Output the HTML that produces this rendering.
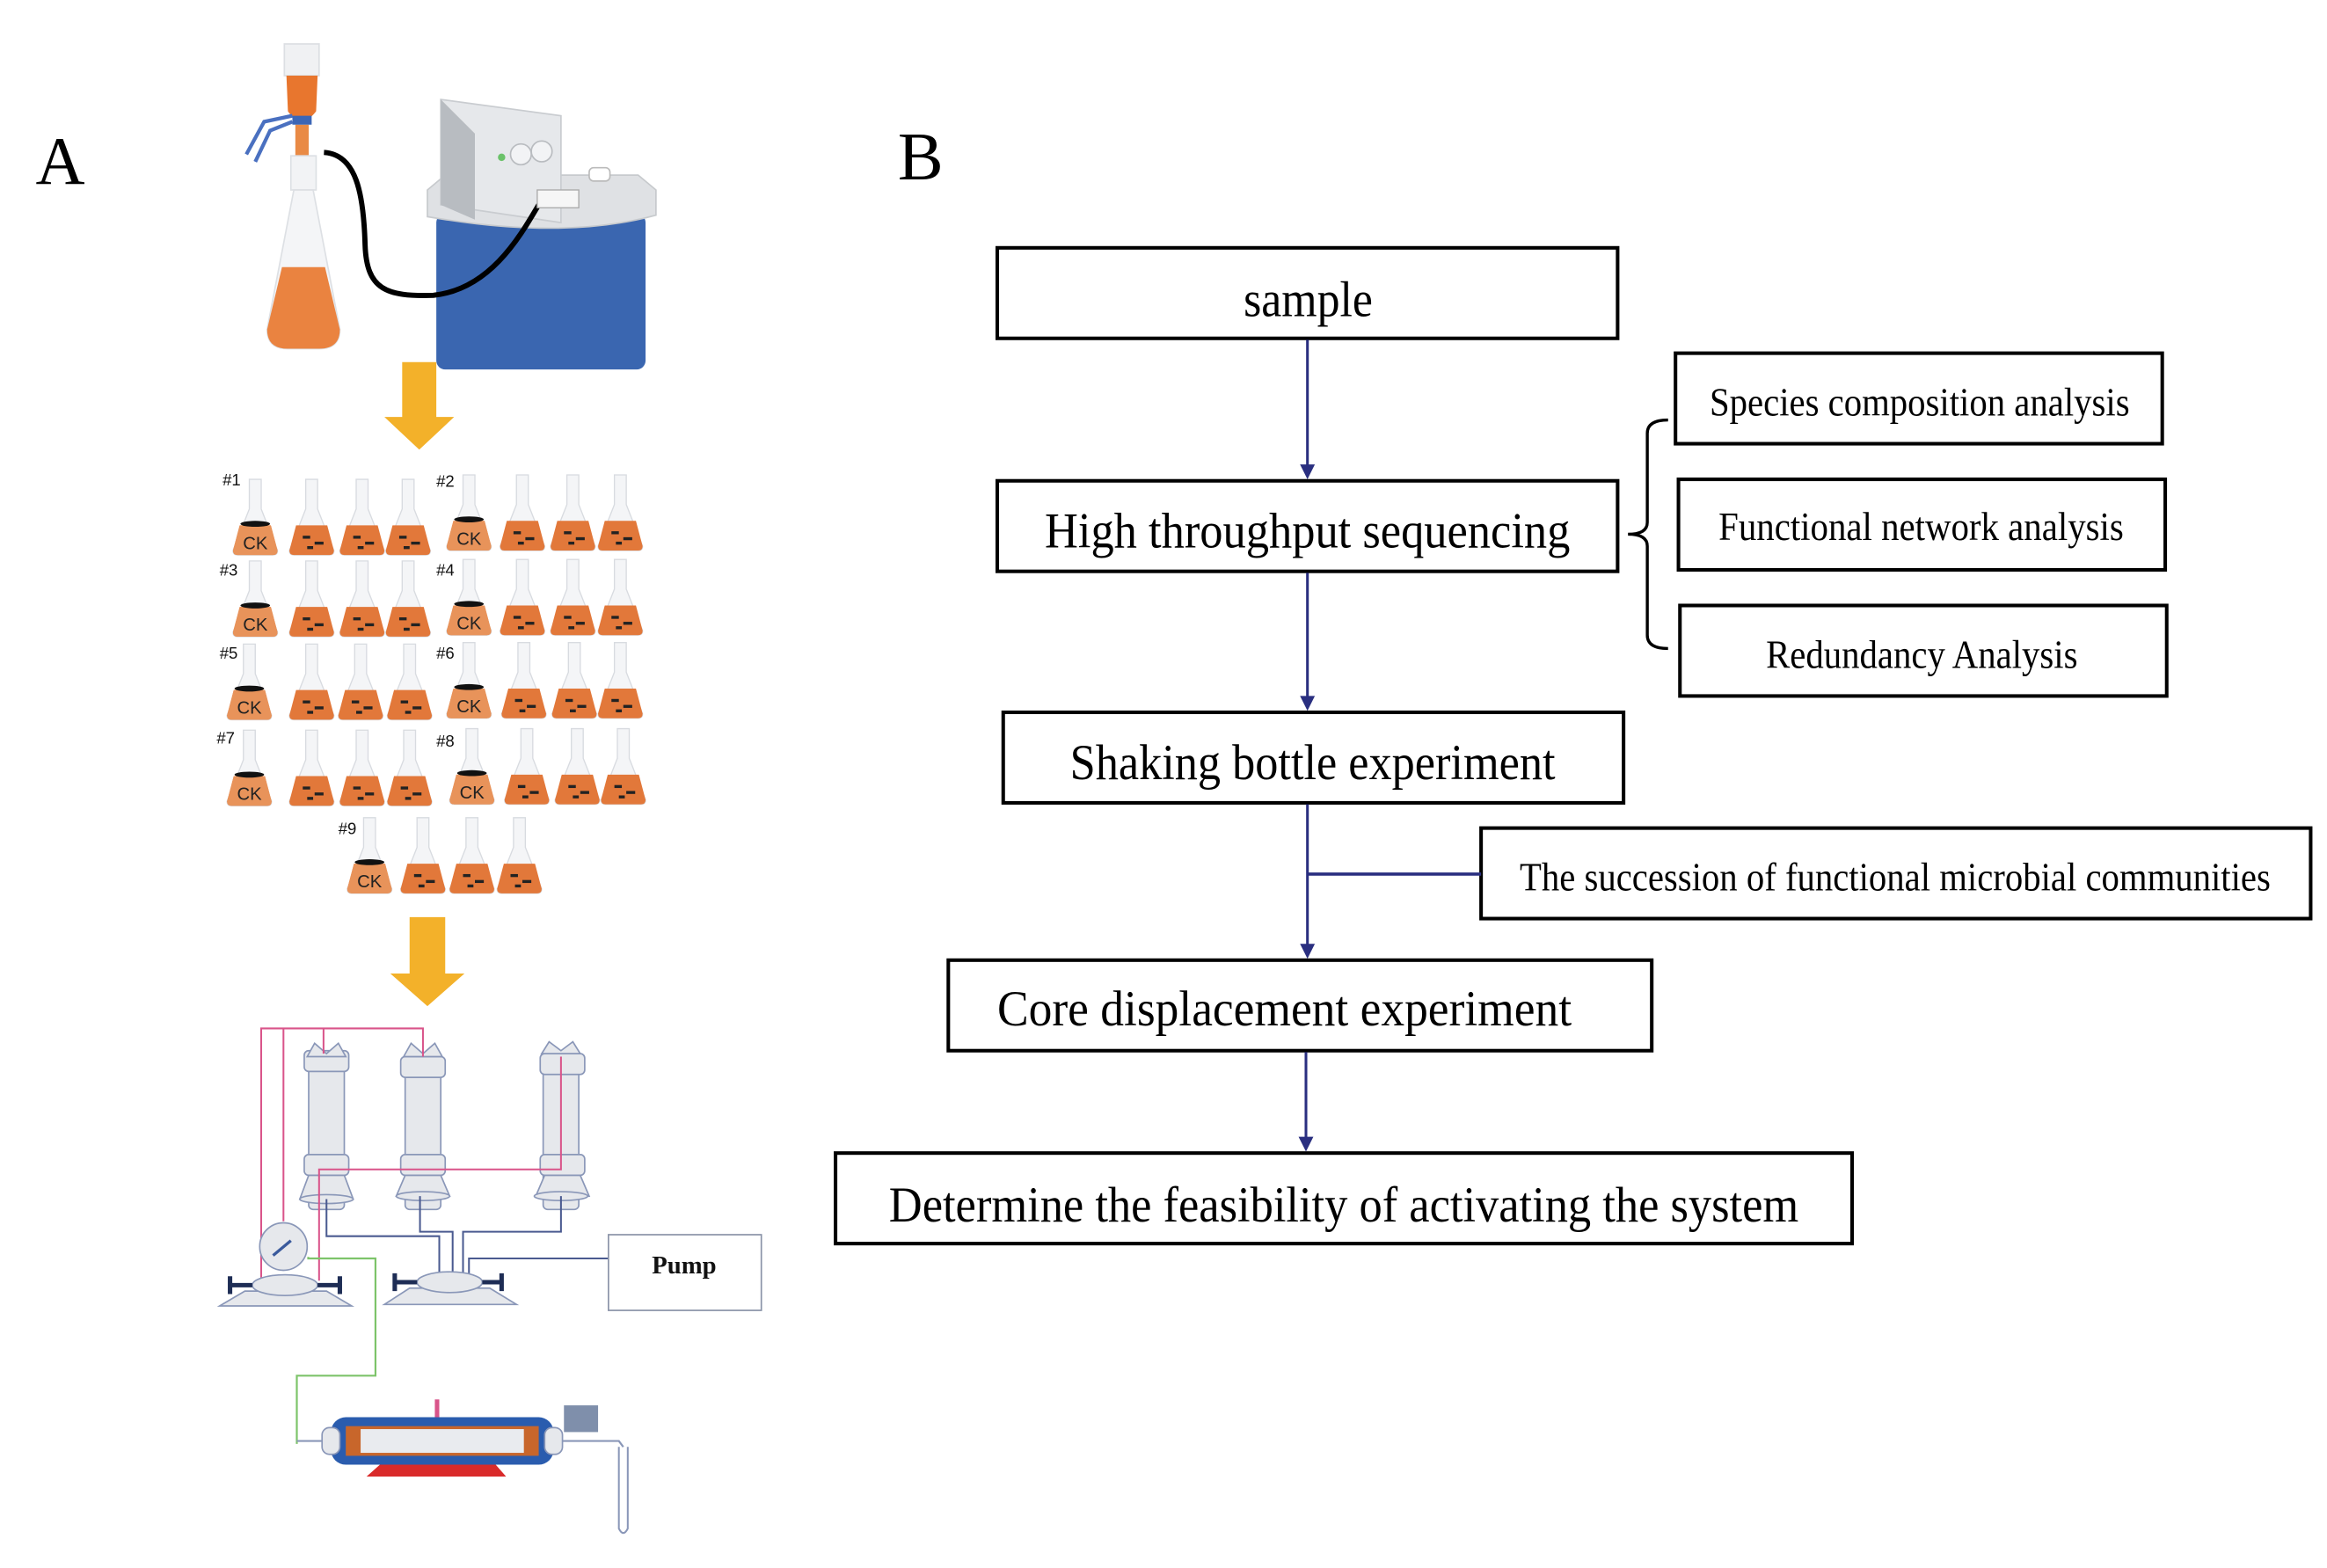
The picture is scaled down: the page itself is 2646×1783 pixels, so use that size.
<!DOCTYPE html>
<html><head><meta charset="utf-8"><style>
html,body{margin:0;padding:0;background:#fff}
svg{display:block}
</style></head><body>
<svg width="2646" height="1783" viewBox="0 0 1568 1056.6" xmlns="http://www.w3.org/2000/svg">
<defs>
<symbol id="fl" overflow="visible">
 <path d="M-4,0 L4,0 L4,20 L15,48 Q15,51 12,51 L-12,51 Q-15,51 -15,48 L-4,20 Z" fill="#f4f5f7" stroke="#d8dbe0" stroke-width="0.8"/>
 <path d="M-10.5,31 L10.5,31 L15,48 Q15,51 12,51 L-12,51 Q-15,51 -15,48 Z" fill="#e2783a"/>
</symbol>
<symbol id="ck" overflow="visible">
 <use href="#fl"/>
 <path d="M-10.5,31 L10.5,31 L15,48 Q15,51 12,51 L-12,51 Q-15,51 -15,48 Z" fill="#e8935a"/>
 <ellipse cx="0" cy="30" rx="10" ry="2" fill="#111"/>
 <text x="0" y="47" font-family="Liberation Sans, sans-serif" font-size="12" text-anchor="middle" fill="#222">CK</text>
</symbol>
<symbol id="dk" overflow="visible">
 <use href="#fl"/>
 <rect x="-6" y="38" width="5" height="2" fill="#222"/><rect x="2" y="42" width="6" height="2" fill="#222"/><rect x="-3" y="45" width="4" height="2" fill="#222"/>
</symbol>
</defs>

<text x="24" y="124" font-family="Liberation Serif, serif" font-size="46" fill="#000">A</text>
<text x="605" y="121" font-family="Liberation Serif, serif" font-size="46" fill="#000">B</text>

<rect x="191.6" y="29.6" width="23.4" height="21.4" fill="#f0f1f3" stroke="#dcdfe3"/>
<path d="M193,51 L214,51 L213,75 Q203,88 194,75 Z" fill="#e8762e"/>
<rect x="199" y="84" width="9" height="21" fill="#e98a45"/>
<path d="M197,78 L210,78 L210,84 L197,84 Z" fill="#3c66b6"/>
<path d="M197,78 L178,82 L166,104 M197,82 L182,88 L172,109" stroke="#4a70c0" stroke-width="2.5" fill="none"/>
<rect x="196" y="105" width="17" height="23" fill="#f2f3f5" stroke="#dde0e4"/>
<path d="M198,128 L211,128 L229,222 Q229,235 215,235 L194,235 Q180,235 180,222 Z" fill="#f4f5f7" stroke="#dde0e4"/>
<path d="M190,180 L219,180 L229,222 Q229,235 215,235 L194,235 Q180,235 180,222 Z" fill="#ea8340"/>
<rect x="294" y="144" width="141" height="105" rx="6" fill="#3a66b0"/>
<path d="M288,128 L300,118 L430,118 L442,128 L442,145 Q380,162 288,146 Z" fill="#dfe1e4" stroke="#c7cacd"/>
<path d="M297,67 L378,78 L378,150 L297,138 Z" fill="#e6e8eb" stroke="#c9ccd0"/>
<path d="M297,67 L320,90 L320,148 L297,138 Z" fill="#b8bcc1"/>
<circle cx="351" cy="104" r="7" fill="#f2f3f5" stroke="#b9bcc0"/><circle cx="365" cy="102" r="7" fill="#f2f3f5" stroke="#b9bcc0"/>
<circle cx="338" cy="106" r="2.5" fill="#6bc26a"/>
<rect x="397" y="113" width="14" height="9" rx="3" fill="#fff" stroke="#bbb"/>
<path d="M218.3,102.7 C240,104 245,130 246,165 C247,195 260,200 292,199 C330,195 350,160 363,138" stroke="#000" stroke-width="3.5" fill="none"/>
<rect x="362" y="128" width="28" height="12" fill="#f6f6f6" stroke="#aaa" stroke-width="0.8"/>

<path d="M271,244 L294,244 L294,281 L306,281 L282.5,303 L259,281 L271,281 Z" fill="#f3b12a"/>
<path d="M276,618 L300,618 L300,656 L313,656 L288,678 L263,656 L276,656 Z" fill="#f3b12a"/>

<g font-family="Liberation Sans, sans-serif" font-size="11" fill="#111">
<text x="150" y="327">#1</text><text x="294" y="328">#2</text>
<text x="148" y="388">#3</text><text x="294" y="388">#4</text>
<text x="148" y="444">#5</text><text x="294" y="444">#6</text>
<text x="146" y="501">#7</text><text x="294" y="503">#8</text>
<text x="228" y="562">#9</text>
</g>
<use href="#ck" x="172" y="323"/><use href="#dk" x="210" y="323"/><use href="#dk" x="244" y="323"/><use href="#dk" x="275" y="323"/>
<use href="#ck" x="316" y="320"/><use href="#dk" x="352" y="320"/><use href="#dk" x="386" y="320"/><use href="#dk" x="418" y="320"/>
<use href="#ck" x="172" y="378"/><use href="#dk" x="210" y="378"/><use href="#dk" x="244" y="378"/><use href="#dk" x="275" y="378"/>
<use href="#ck" x="316" y="377"/><use href="#dk" x="352" y="377"/><use href="#dk" x="386" y="377"/><use href="#dk" x="418" y="377"/>
<use href="#ck" x="168" y="434"/><use href="#dk" x="210" y="434"/><use href="#dk" x="243" y="434"/><use href="#dk" x="276" y="434"/>
<use href="#ck" x="316" y="433"/><use href="#dk" x="353" y="433"/><use href="#dk" x="387" y="433"/><use href="#dk" x="418" y="433"/>
<use href="#ck" x="168" y="492"/><use href="#dk" x="210" y="492"/><use href="#dk" x="244" y="492"/><use href="#dk" x="276" y="492"/>
<use href="#ck" x="318" y="491"/><use href="#dk" x="355" y="491"/><use href="#dk" x="389" y="491"/><use href="#dk" x="420" y="491"/>
<use href="#ck" x="249" y="551"/><use href="#dk" x="285" y="551"/><use href="#dk" x="318" y="551"/><use href="#dk" x="350" y="551"/>

<g fill="#e6e8ec" stroke="#8a97b8" stroke-width="1">
 <rect x="208" y="715" width="24" height="100" rx="3"/><rect x="205" y="708" width="30" height="14" rx="3"/><rect x="205" y="778" width="30" height="14" rx="3"/>
 <path d="M208,792 L232,792 L238,808 L202,808 Z"/><ellipse cx="220" cy="808" rx="18" ry="3"/>
 <rect x="273" y="715" width="24" height="100" rx="3"/><rect x="270" y="712" width="30" height="14" rx="3"/><rect x="270" y="778" width="30" height="14" rx="3"/>
 <path d="M273,792 L297,792 L303,806 L267,806 Z"/><ellipse cx="285" cy="806" rx="18" ry="3"/>
 <rect x="366" y="715" width="24" height="100" rx="3"/><rect x="364" y="710" width="30" height="14" rx="3"/><rect x="364" y="778" width="30" height="14" rx="3"/>
 <path d="M367,792 L391,792 L397,806 L361,806 Z"/><ellipse cx="378" cy="806" rx="18" ry="3"/>
 <path d="M207,712 L212,703 L220,710 L228,703 L233,712 Z"/><path d="M272,712 L277,703 L285,710 L293,703 L298,712 Z"/><path d="M365,710 L370,702 L378,708 L386,702 L391,710 Z"/>
</g>
<g fill="none" stroke="#d9548a" stroke-width="1.2">
 <path d="M176,868 L176,693 L285,693 L285,712"/><path d="M191,823 L191,693"/><path d="M218,693 L218,710"/>
 <path d="M215,863 L215,788 L378,788 L378,712"/>
</g>
<g fill="none" stroke="#4a5a90" stroke-width="1.2">
 <path d="M220,808 L220,833 L296,833 L296,862"/><path d="M283,806 L283,830 L305,830 L305,862"/><path d="M378,806 L378,830 L312,830 L312,862"/>
 <path d="M316,860 L316,848 L410,848"/>
</g>
<path d="M207.7,847 L207.7,848 L253,848 L253,927 L200,927 L200,973" fill="none" stroke="#7dc46a" stroke-width="1.3"/>
<circle cx="191" cy="840" r="16" fill="#e6e8ec" stroke="#8a97b8"/>
<path d="M184,846 L196,836" stroke="#3a5a9c" stroke-width="2"/>
<g fill="#e6e8ec" stroke="#8a97b8">
 <path d="M148,880 L165,870 L220,870 L237,880 Z"/><ellipse cx="192" cy="866" rx="22" ry="7"/>
 <path d="M259,879 L276,868 L330,868 L348,879 Z"/><ellipse cx="303" cy="864" rx="22" ry="7"/>
</g>
<g stroke="#1e2d55" stroke-width="3"><path d="M155,866 L170,866 M155,860 L155,872 M214,866 L229,866 M229,860 L229,872 M266,864 L281,864 M266,858 L266,870 M325,864 L338,864 M338,858 L338,870"/></g>
<rect x="410" y="832" width="103" height="51" fill="#fff" stroke="#8a93a8" stroke-width="1"/>
<text x="461" y="858" font-family="Liberation Serif, serif" font-weight="bold" font-size="17" text-anchor="middle" fill="#111">Pump</text>
<rect x="223" y="955" width="150" height="32" rx="10" fill="#2a5cae"/>
<rect x="233" y="961" width="130" height="20" fill="#c8662b"/>
<rect x="243" y="963" width="110" height="16" fill="#e9ebef"/>
<rect x="217" y="962" width="12" height="18" rx="5" fill="#e6e8ec" stroke="#8a97b8"/>
<rect x="367" y="962" width="12" height="18" rx="5" fill="#e6e8ec" stroke="#8a97b8"/>
<path d="M247,995 L256,987 L334,987 L341,995 Z" fill="#d92a2a"/>
<rect x="293" y="943" width="3" height="12" fill="#d9548a"/>
<rect x="380" y="947" width="23" height="18" fill="#7f8fab"/>
<path d="M379,971 L417,971 L420,975 M200,971 L217,971" stroke="#8a97b8" stroke-width="1.3" fill="none"/>
<path d="M417,975 L417,1030 Q420,1036 423,1030 L423,975" fill="none" stroke="#8a97b8" stroke-width="1.2"/>

<g fill="none" stroke="#000" stroke-width="2.4">
 <rect x="672" y="167" width="418" height="61"/>
 <rect x="672" y="324" width="418" height="61"/>
 <rect x="676" y="480" width="418" height="61"/>
 <rect x="639" y="647" width="474" height="61"/>
 <rect x="563" y="777" width="685" height="61"/>
 <rect x="1129" y="238" width="328" height="61"/>
 <rect x="1131" y="323" width="328" height="61"/>
 <rect x="1132" y="408" width="328" height="61"/>
 <rect x="998" y="558" width="559" height="61"/>
 <path d="M1124,283 Q1110,283 1110,292 L1110,352 Q1110,360 1097,360 Q1110,360 1110,368 L1110,428 Q1110,437 1124,437" stroke-width="2"/>
</g>
<g stroke="#2a2f80" stroke-width="1.8" fill="#2a2f80">
 <line x1="881" y1="229" x2="881" y2="316"/><path d="M876,313 L886,313 L881,323 Z" stroke="none"/>
 <line x1="881" y1="386" x2="881" y2="472"/><path d="M876,469 L886,469 L881,479 Z" stroke="none"/>
 <line x1="881" y1="542" x2="881" y2="639"/><path d="M876,636 L886,636 L881,646 Z" stroke="none"/>
 <line x1="881" y1="589" x2="998" y2="589" stroke-width="2.2"/>
 <line x1="880" y1="709" x2="880" y2="769"/><path d="M875,766 L885,766 L880,776 Z" stroke="none"/>
</g>
<g font-family="Liberation Serif, serif" fill="#000" text-anchor="start">
 <text x="838" y="213" font-size="34" textLength="87" lengthAdjust="spacingAndGlyphs">sample</text>
 <text x="704" y="369" font-size="34" textLength="354" lengthAdjust="spacingAndGlyphs">High throughput sequencing</text>
 <text x="721" y="525" font-size="34" textLength="327" lengthAdjust="spacingAndGlyphs">Shaking bottle experiment</text>
 <text x="672" y="691" font-size="34" textLength="387" lengthAdjust="spacingAndGlyphs">Core  displacement experiment</text>
 <text x="599" y="823" font-size="34" textLength="613" lengthAdjust="spacingAndGlyphs">Determine the feasibility of activating the system</text>
 <text x="1152" y="280" font-size="27" textLength="283" lengthAdjust="spacingAndGlyphs">Species composition analysis</text>
 <text x="1158" y="364" font-size="27" textLength="273" lengthAdjust="spacingAndGlyphs">Functional network analysis</text>
 <text x="1190" y="450" font-size="27" textLength="210" lengthAdjust="spacingAndGlyphs">Redundancy Analysis</text>
 <text x="1024" y="600" font-size="27" textLength="506" lengthAdjust="spacingAndGlyphs">The succession of functional microbial communities</text>
</g>
</svg>
</body></html>
